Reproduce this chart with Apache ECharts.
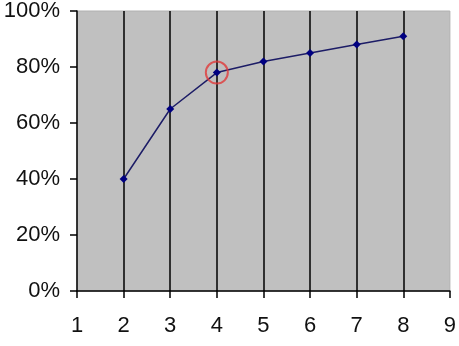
<!DOCTYPE html>
<html>
<head>
<meta charset="utf-8">
<script src="https://cdn.jsdelivr.net/npm/echarts@6/dist/echarts.min.js"></script>
<style>
html,body{margin:0;padding:0;background:#fff;}
#c{width:459px;height:346px;}
</style>
</head>
<body>
<div id="c"></div>
<script>
var xValues = [2, 3, 4, 5, 6, 7, 8];
var yValues = [40, 65, 78, 82, 85, 88, 91];
var highlightIndex = 2;
var xTicks = [1, 2, 3, 4, 5, 6, 7, 8, 9];
var yTicks = [0, 20, 40, 60, 80, 100];

var chart = echarts.init(document.getElementById('c'));
var lineData = xValues.map(function (x, i) { return [x, yValues[i]]; });
var labelFont = { color: '#111', fontSize: 22, fontFamily: 'Liberation Sans, Arial, sans-serif' };
chart.setOption({
  animation: false,
  backgroundColor: '#ffffff',
  grid: {
    left: 77, right: 7, top: 11, bottom: 55,
    show: true, backgroundColor: '#c0c0c0', borderColor: '#b0b0b0', borderWidth: 1
  },
  xAxis: {
    type: 'value',
    min: xTicks[0], max: xTicks[xTicks.length - 1], interval: 1,
    axisLine: { show: true, lineStyle: { color: '#000', width: 1.5 } },
    axisTick: { show: true, length: 7, lineStyle: { color: '#000', width: 1.5 } },
    axisLabel: Object.assign({ margin: 24 }, labelFont),
    splitLine: { show: true, showMinLine: false, showMaxLine: false, lineStyle: { color: '#000', width: 1.5 } }
  },
  yAxis: {
    type: 'value',
    min: yTicks[0], max: yTicks[yTicks.length - 1], interval: 20,
    axisLine: { show: true, lineStyle: { color: '#000', width: 1.5 } },
    axisTick: { show: true, length: 7, lineStyle: { color: '#000', width: 1.5 } },
    axisLabel: Object.assign({ margin: 17, formatter: function (v) { return v + '%'; } }, labelFont),
    splitLine: { show: false }
  },
  series: [
    {
      type: 'line',
      data: lineData,
      symbol: 'diamond',
      symbolSize: 8,
      lineStyle: { color: '#1c1c66', width: 1.5 },
      itemStyle: { color: '#000080' },
      z: 3
    },
    {
      type: 'scatter',
      data: [lineData[highlightIndex]],
      symbol: 'circle',
      symbolSize: 22,
      itemStyle: { color: 'rgba(0,0,0,0)', borderColor: '#e03a3a', borderWidth: 2 },
      z: 4
    }
  ]
});
</script>
</body>
</html>
